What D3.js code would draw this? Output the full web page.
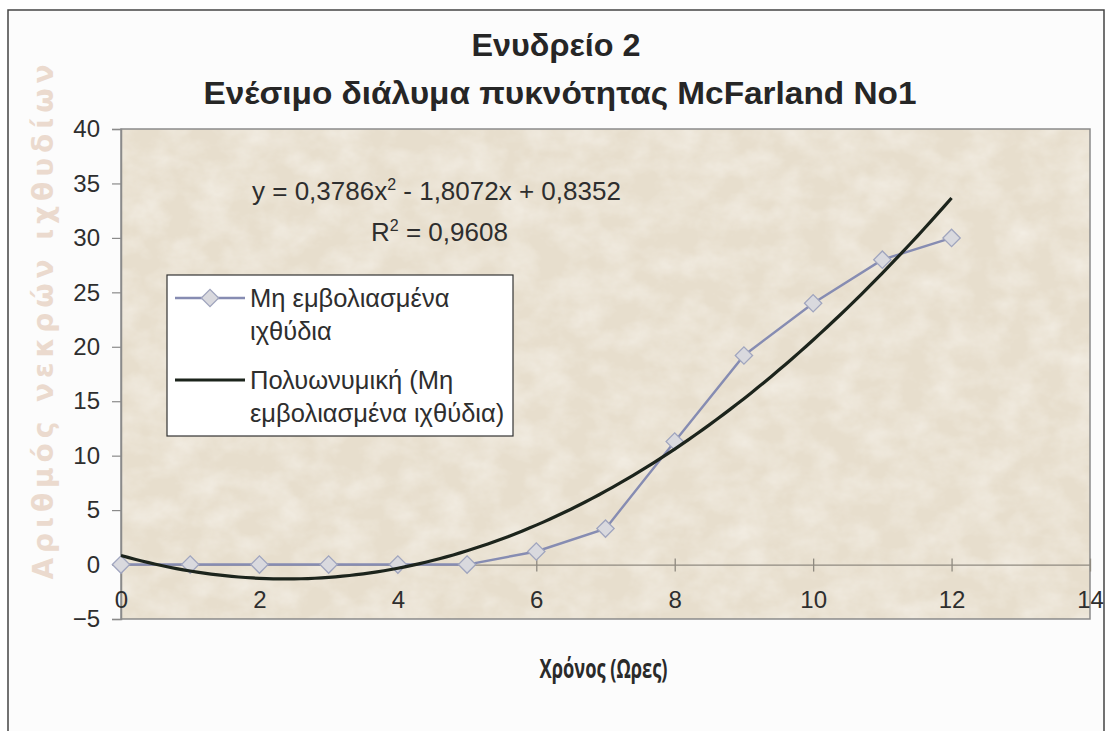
<!DOCTYPE html>
<html>
<head>
<meta charset="utf-8">
<script src="https://cdn.jsdelivr.net/npm/d3@7"></script>
<style>
  html, body { margin: 0; padding: 0; background: #ffffff; }
  svg { display: block; }
</style>
</head>
<body>
<svg id="chart" width="1110" height="731"></svg>
<script>
// Hours since injection and dead fry counted at each reading
const hours = [0, 1, 2, 3, 4, 5, 6, 7, 8, 9, 10, 11, 12];
const deadFish = [0, 0, 0, 0, 0, 0, 1.2, 3.3, 11.3, 19.2, 24, 28, 30];

// Second-order polynomial trend: c0 + c1*x + c2*x^2
const trendCoef = [0.8352, -1.8072, 0.3786];
const trendR2 = "0,9608";

const xTicks = [0, 2, 4, 6, 8, 10, 12, 14];
const yTicks = [-5, 0, 5, 10, 15, 20, 25, 30, 35, 40];

const titleLines = ["Ενυδρείο 2", "Ενέσιμο διάλυμα πυκνότητας McFarland No1"];
const xTitle = "Χρόνος (Ωρες)";
const yTitle = "Αριθμός νεκρών ιχθυδίων";
const seriesName = ["Μη εμβολιασμένα", "ιχθύδια"];
const trendName = ["Πολυωνυμική (Μη", "εμβολιασμένα ιχθύδια)"];

const svg = d3.select("#chart");
const plot = { left: 121, right: 1090, top: 129, bottom: 619 };

const x = d3.scaleLinear().domain([0, 14]).range([plot.left, plot.right]);
const y = d3.scaleLinear().domain([-5, 40]).range([plot.bottom, plot.top]);

const font = "'Liberation Sans', Arial, sans-serif";
const textColor = "#2e2e2e";
const seriesColor = "#868cb2";
const markerFill = "#d9d9de";
const trendColor = "#1c241c";

// Chart area frame
svg.append("rect")
  .attr("x", 8).attr("y", 10).attr("width", 1096).attr("height", 722)
  .attr("fill", "#fcfcfc").attr("stroke", "#444").attr("stroke-width", 1.5);

// Parchment fill for the plot area
const defs = svg.append("defs");
const paper = defs.append("filter").attr("id", "paper")
  .attr("x", 0).attr("y", 0).attr("width", "100%").attr("height", "100%");
paper.append("feTurbulence").attr("type", "fractalNoise")
  .attr("baseFrequency", "0.03 0.04").attr("numOctaves", 4).attr("seed", 11).attr("result", "noise");
paper.append("feColorMatrix").attr("in", "noise").attr("type", "matrix")
  .attr("values", "0 0 0 0 0.96  0 0 0 0 0.94  0 0 0 0 0.90  0 0 0 0.9 -0.3")
  .attr("result", "light");
paper.append("feComposite").attr("in", "light").attr("in2", "SourceGraphic").attr("operator", "in");

const plotRect = () => svg.append("rect")
  .attr("x", plot.left).attr("y", plot.top)
  .attr("width", plot.right - plot.left).attr("height", plot.bottom - plot.top);
plotRect().attr("fill", "#e7decd");
plotRect().attr("fill", "#e7decd").attr("filter", "url(#paper)");
plotRect().attr("fill", "none").attr("stroke", "#8a8a8a").attr("stroke-width", 1.5);

// Titles
svg.append("text")
  .attr("x", 556).attr("y", 56)
  .attr("text-anchor", "middle")
  .attr("font-family", font).attr("font-weight", "bold").attr("font-size", 31)
  .attr("textLength", 169).attr("lengthAdjust", "spacingAndGlyphs")
  .attr("fill", "#262626")
  .text(titleLines[0]);
svg.append("text")
  .attr("x", 560).attr("y", 104)
  .attr("text-anchor", "middle")
  .attr("font-family", font).attr("font-weight", "bold").attr("font-size", 31)
  .attr("textLength", 713).attr("lengthAdjust", "spacingAndGlyphs")
  .attr("fill", "#262626")
  .text(titleLines[1]);

// Y axis on the left edge of the plot
const yAxis = svg.append("g")
  .attr("transform", `translate(${plot.left},0)`)
  .call(d3.axisLeft(y).tickValues(yTicks).tickSize(9).tickPadding(12).tickFormat(d3.format("d")));
yAxis.select(".domain").attr("stroke", "#8a8a8a").attr("stroke-width", 1.5);
yAxis.selectAll(".tick line").attr("stroke", "#8a8a8a").attr("stroke-width", 1.2);
yAxis.selectAll(".tick text")
  .attr("font-family", font).attr("font-size", 24).attr("fill", textColor);

// X axis crossing at y = 0, labels beneath it
const xAxis = svg.append("g")
  .attr("transform", `translate(0,${y(0)})`)
  .call(d3.axisBottom(x).tickValues(xTicks).tickSize(0).tickFormat(d3.format("d")));
xAxis.select(".domain").attr("stroke", "#8f8a80").attr("stroke-width", 1.3);
xAxis.selectAll(".tick line").remove();
xAxis.selectAll(".tick").append("line")
  .attr("y1", -6).attr("y2", 7)
  .attr("stroke", "#8f8a80").attr("stroke-width", 1.3);
xAxis.selectAll(".tick text")
  .attr("y", 0).attr("dy", "1.8em")
  .attr("font-family", font).attr("font-size", 24).attr("fill", textColor);

// Axis titles
svg.append("text")
  .attr("x", (plot.left + plot.right) / 2 - 2).attr("y", 678)
  .attr("text-anchor", "middle")
  .attr("font-family", "'Open Sans', sans-serif").attr("font-weight", "bold").attr("font-size", 27)
  .attr("textLength", 128).attr("lengthAdjust", "spacingAndGlyphs")
  .attr("fill", "#2a2a2a")
  .text(xTitle);

svg.append("text")
  .attr("transform", "translate(53,322) rotate(-90)")
  .attr("text-anchor", "middle")
  .attr("font-family", "'DejaVu Sans', sans-serif").attr("font-weight", "bold").attr("font-size", 28)
  .attr("textLength", 515).attr("lengthAdjust", "spacing")
  .attr("fill", "#ebdace")
  .text(yTitle);

// Trend curve from the fitted coefficients
const trendFn = v => trendCoef[0] + trendCoef[1] * v + trendCoef[2] * v * v;
const trendPts = d3.range(0, 12.001, 0.1).map(v => [v, trendFn(v)]);

const lineGen = d3.line().x(d => x(d[0])).y(d => y(d[1]));

// Observed series
const obs = hours.map((h, i) => [h, deadFish[i]]);
svg.append("path")
  .datum(obs)
  .attr("d", lineGen)
  .attr("fill", "none").attr("stroke", seriesColor).attr("stroke-width", 2.4);

const diamond = d3.symbol().type(d3.symbolSquare).size(150);
svg.append("g").selectAll("path")
  .data(obs)
  .join("path")
  .attr("d", diamond)
  .attr("transform", d => `translate(${x(d[0])},${y(d[1])}) rotate(45)`)
  .attr("fill", markerFill).attr("stroke", "#a0a5be").attr("stroke-width", 1.3);

svg.append("path")
  .datum(trendPts)
  .attr("d", lineGen)
  .attr("fill", "none").attr("stroke", trendColor).attr("stroke-width", 3.2);

// Trend equation and R²
const fmt = v => String(v).replace(".", ",");
const eq = svg.append("text")
  .attr("x", 252).attr("y", 200)
  .attr("font-family", font).attr("font-size", 26).attr("fill", textColor);
eq.append("tspan").text(`y = ${fmt(trendCoef[2])}x`);
eq.append("tspan").attr("dy", -10).attr("font-size", 16).text("2");
eq.append("tspan").attr("dy", 10)
  .text(` - ${fmt(Math.abs(trendCoef[1]))}x + ${fmt(trendCoef[0])}`);

const r2 = svg.append("text")
  .attr("x", 371).attr("y", 241)
  .attr("font-family", font).attr("font-size", 26).attr("fill", textColor);
r2.append("tspan").text("R");
r2.append("tspan").attr("dy", -10).attr("font-size", 16).text("2");
r2.append("tspan").attr("dy", 10).text(` = ${trendR2}`);

// Legend
const legend = svg.append("g");
legend.append("rect")
  .attr("x", 167).attr("y", 275).attr("width", 346).attr("height", 161)
  .attr("fill", "#ffffff").attr("stroke", "#333").attr("stroke-width", 1.2);

legend.append("line")
  .attr("x1", 175).attr("x2", 245).attr("y1", 298).attr("y2", 298)
  .attr("stroke", seriesColor).attr("stroke-width", 2.4);
legend.append("path")
  .attr("d", diamond)
  .attr("transform", "translate(210,298) rotate(45)")
  .attr("fill", markerFill).attr("stroke", "#a0a5be").attr("stroke-width", 1.3);
legend.append("line")
  .attr("x1", 175).attr("x2", 245).attr("y1", 380).attr("y2", 380)
  .attr("stroke", trendColor).attr("stroke-width", 3.2);

const legendText = (lines, y0) => {
  lines.forEach((t, i) => {
    legend.append("text")
      .attr("x", 250).attr("y", y0 + i * 33)
      .attr("font-family", font).attr("font-size", 25.5).attr("fill", textColor)
      .text(t);
  });
};
legendText(seriesName, 307);
legendText(trendName, 389);
</script>
</body>
</html>
